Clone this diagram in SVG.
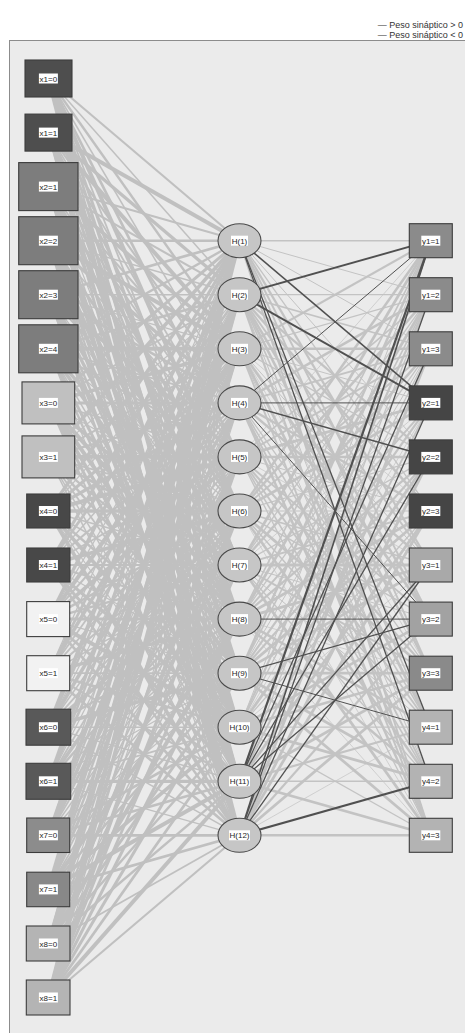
<svg xmlns="http://www.w3.org/2000/svg" width="465" height="1033" viewBox="0 0 465 1033">
<style>
text{font-family:"Liberation Sans",Arial,sans-serif;font-size:8px;fill:#1e1e1e;text-anchor:middle}
.leg{font-size:9px;text-anchor:end;fill:#333}
.bg{fill:#ebebeb;stroke:#8c8c8c;stroke-width:1}
.c path{fill:none}
.l{stroke:#c3c3c3}
.n{stroke:#505050}
.p0{stroke-width:.7}.p1{stroke-width:1}.p2{stroke-width:1.3}.p3{stroke-width:1.6}.p4{stroke-width:1.9}
.p5{stroke-width:2.2}.p6{stroke-width:2.5}.p7{stroke-width:2.8}.p8{stroke-width:3.1}.p9{stroke-width:3.4}
.L{stroke:#c0c0c0}
.L .p0{stroke-width:1.2}.L .p1{stroke-width:1.5}.L .p2{stroke-width:1.8}.L .p3{stroke-width:2.1}.L .p4{stroke-width:2.4}
.L .p5{stroke-width:2.7}.L .p6{stroke-width:3}.L .p7{stroke-width:3.3}.L .p8{stroke-width:3.6}.L .p9{stroke-width:4}
.b{stroke:#3c3c3c;stroke-width:1.1}
.lb{fill:#fff}
ellipse{fill:#c6c6c6;stroke:#4a4a4a;stroke-width:1.1}
</style>
<rect class="bg" x="9.5" y="40.5" width="470" height="1010"/>
<g id="legend">
<text class="leg" x="463" y="28">— Peso sináptico &gt; 0</text>
<text class="leg" x="463" y="37.5">— Peso sináptico &lt; 0</text>
</g>
<g id="connectors" class="c">
<g class="L">
<path class="p3" d="M48.4 78.5L239.5 240.7"/><path class="p1" d="M48.4 78.5L239.5 294.7"/><path class="p4" d="M48.4 78.5L239.5 348.8"/><path class="p1" d="M48.4 78.5L239.5 402.9"/><path class="p5" d="M48.4 78.5L239.5 456.9"/><path class="p9" d="M48.4 78.5L239.5 511"/><path class="p2" d="M48.4 78.5L239.5 565"/><path class="p6" d="M48.4 78.5L239.5 619.1"/><path class="p5" d="M48.4 78.5L239.5 673.2"/><path class="p3" d="M48.4 78.5L239.5 727.2"/><path class="p5" d="M48.4 78.5L239.5 781.3"/><path class="p8" d="M48.4 78.5L239.5 835.3"/>
<path class="p9" d="M48.4 132.6L239.5 240.7"/><path class="p7" d="M48.4 132.6L239.5 294.7"/><path class="p9" d="M48.4 132.6L239.5 348.8"/><path class="p3" d="M48.4 132.6L239.5 402.9"/><path class="p2" d="M48.4 132.6L239.5 456.9"/><path class="p3" d="M48.4 132.6L239.5 511"/><path class="p8" d="M48.4 132.6L239.5 565"/><path class="p4" d="M48.4 132.6L239.5 619.1"/><path class="p6" d="M48.4 132.6L239.5 673.2"/><path class="p2" d="M48.4 132.6L239.5 727.2"/><path class="p6" d="M48.4 132.6L239.5 781.3"/><path class="p4" d="M48.4 132.6L239.5 835.3"/>
<path class="p3" d="M48.4 186.6L239.5 240.7"/><path class="p3" d="M48.4 186.6L239.5 294.7"/><path class="p8" d="M48.4 186.6L239.5 348.8"/><path class="p3" d="M48.4 186.6L239.5 402.9"/><path class="p2" d="M48.4 186.6L239.5 456.9"/><path class="p7" d="M48.4 186.6L239.5 511"/><path class="p9" d="M48.4 186.6L239.5 565"/><path class="p5" d="M48.4 186.6L239.5 619.1"/><path class="p0" d="M48.4 186.6L239.5 673.2"/><path class="p2" d="M48.4 186.6L239.5 727.2"/><path class="p8" d="M48.4 186.6L239.5 781.3"/><path class="p8" d="M48.4 186.6L239.5 835.3"/>
<path class="p4" d="M48.4 240.7L239.5 240.7"/><path class="p1" d="M48.4 240.7L239.5 294.7"/><path class="p9" d="M48.4 240.7L239.5 348.8"/><path class="p7" d="M48.4 240.7L239.5 402.9"/><path class="p1" d="M48.4 240.7L239.5 456.9"/><path class="p6" d="M48.4 240.7L239.5 511"/><path class="p9" d="M48.4 240.7L239.5 565"/><path class="p3" d="M48.4 240.7L239.5 619.1"/><path class="p9" d="M48.4 240.7L239.5 673.2"/><path class="p9" d="M48.4 240.7L239.5 727.2"/><path class="p3" d="M48.4 240.7L239.5 781.3"/><path class="p7" d="M48.4 240.7L239.5 835.3"/>
<path class="p5" d="M48.4 294.7L239.5 240.7"/><path class="p1" d="M48.4 294.7L239.5 294.7"/><path class="p0" d="M48.4 294.7L239.5 348.8"/><path class="p5" d="M48.4 294.7L239.5 402.9"/><path class="p8" d="M48.4 294.7L239.5 456.9"/><path class="p2" d="M48.4 294.7L239.5 511"/><path class="p0" d="M48.4 294.7L239.5 565"/><path class="p9" d="M48.4 294.7L239.5 619.1"/><path class="p7" d="M48.4 294.7L239.5 673.2"/><path class="p4" d="M48.4 294.7L239.5 727.2"/><path class="p9" d="M48.4 294.7L239.5 781.3"/><path class="p4" d="M48.4 294.7L239.5 835.3"/>
<path class="p4" d="M48.4 348.8L239.5 240.7"/><path class="p5" d="M48.4 348.8L239.5 294.7"/><path class="p9" d="M48.4 348.8L239.5 348.8"/><path class="p2" d="M48.4 348.8L239.5 402.9"/><path class="p3" d="M48.4 348.8L239.5 456.9"/><path class="p0" d="M48.4 348.8L239.5 511"/><path class="p7" d="M48.4 348.8L239.5 565"/><path class="p8" d="M48.4 348.8L239.5 619.1"/><path class="p1" d="M48.4 348.8L239.5 673.2"/><path class="p6" d="M48.4 348.8L239.5 727.2"/><path class="p4" d="M48.4 348.8L239.5 781.3"/><path class="p0" d="M48.4 348.8L239.5 835.3"/>
<path class="p6" d="M48.4 402.9L239.5 240.7"/><path class="p2" d="M48.4 402.9L239.5 294.7"/><path class="p8" d="M48.4 402.9L239.5 348.8"/><path class="p6" d="M48.4 402.9L239.5 402.9"/><path class="p2" d="M48.4 402.9L239.5 456.9"/><path class="p0" d="M48.4 402.9L239.5 511"/><path class="p8" d="M48.4 402.9L239.5 565"/><path class="p9" d="M48.4 402.9L239.5 619.1"/><path class="p9" d="M48.4 402.9L239.5 673.2"/><path class="p8" d="M48.4 402.9L239.5 727.2"/><path class="p6" d="M48.4 402.9L239.5 781.3"/><path class="p2" d="M48.4 402.9L239.5 835.3"/>
<path class="p8" d="M48.4 456.9L239.5 240.7"/><path class="p0" d="M48.4 456.9L239.5 294.7"/><path class="p3" d="M48.4 456.9L239.5 348.8"/><path class="p4" d="M48.4 456.9L239.5 402.9"/><path class="p8" d="M48.4 456.9L239.5 456.9"/><path class="p2" d="M48.4 456.9L239.5 511"/><path class="p5" d="M48.4 456.9L239.5 565"/><path class="p3" d="M48.4 456.9L239.5 619.1"/><path class="p4" d="M48.4 456.9L239.5 673.2"/><path class="p2" d="M48.4 456.9L239.5 727.2"/><path class="p1" d="M48.4 456.9L239.5 781.3"/><path class="p1" d="M48.4 456.9L239.5 835.3"/>
<path class="p7" d="M48.4 511L239.5 240.7"/><path class="p0" d="M48.4 511L239.5 294.7"/><path class="p6" d="M48.4 511L239.5 348.8"/><path class="p7" d="M48.4 511L239.5 402.9"/><path class="p9" d="M48.4 511L239.5 456.9"/><path class="p8" d="M48.4 511L239.5 511"/><path class="p2" d="M48.4 511L239.5 565"/><path class="p1" d="M48.4 511L239.5 619.1"/><path class="p4" d="M48.4 511L239.5 673.2"/><path class="p8" d="M48.4 511L239.5 727.2"/><path class="p0" d="M48.4 511L239.5 781.3"/><path class="p8" d="M48.4 511L239.5 835.3"/>
<path class="p6" d="M48.4 565L239.5 240.7"/><path class="p5" d="M48.4 565L239.5 294.7"/><path class="p1" d="M48.4 565L239.5 348.8"/><path class="p3" d="M48.4 565L239.5 402.9"/><path class="p2" d="M48.4 565L239.5 456.9"/><path class="p8" d="M48.4 565L239.5 511"/><path class="p2" d="M48.4 565L239.5 565"/><path class="p3" d="M48.4 565L239.5 619.1"/><path class="p0" d="M48.4 565L239.5 673.2"/><path class="p6" d="M48.4 565L239.5 727.2"/><path class="p6" d="M48.4 565L239.5 781.3"/><path class="p4" d="M48.4 565L239.5 835.3"/>
<path class="p7" d="M48.4 619.1L239.5 240.7"/><path class="p0" d="M48.4 619.1L239.5 294.7"/><path class="p9" d="M48.4 619.1L239.5 348.8"/><path class="p3" d="M48.4 619.1L239.5 402.9"/><path class="p8" d="M48.4 619.1L239.5 456.9"/><path class="p4" d="M48.4 619.1L239.5 511"/><path class="p4" d="M48.4 619.1L239.5 565"/><path class="p6" d="M48.4 619.1L239.5 619.1"/><path class="p0" d="M48.4 619.1L239.5 673.2"/><path class="p9" d="M48.4 619.1L239.5 727.2"/><path class="p5" d="M48.4 619.1L239.5 781.3"/><path class="p5" d="M48.4 619.1L239.5 835.3"/>
<path class="p0" d="M48.4 673.2L239.5 240.7"/><path class="p5" d="M48.4 673.2L239.5 294.7"/><path class="p8" d="M48.4 673.2L239.5 348.8"/><path class="p2" d="M48.4 673.2L239.5 402.9"/><path class="p2" d="M48.4 673.2L239.5 456.9"/><path class="p3" d="M48.4 673.2L239.5 511"/><path class="p1" d="M48.4 673.2L239.5 565"/><path class="p7" d="M48.4 673.2L239.5 619.1"/><path class="p2" d="M48.4 673.2L239.5 673.2"/><path class="p5" d="M48.4 673.2L239.5 727.2"/><path class="p3" d="M48.4 673.2L239.5 781.3"/><path class="p5" d="M48.4 673.2L239.5 835.3"/>
<path class="p9" d="M48.4 727.2L239.5 240.7"/><path class="p4" d="M48.4 727.2L239.5 294.7"/><path class="p0" d="M48.4 727.2L239.5 348.8"/><path class="p8" d="M48.4 727.2L239.5 402.9"/><path class="p1" d="M48.4 727.2L239.5 456.9"/><path class="p2" d="M48.4 727.2L239.5 511"/><path class="p8" d="M48.4 727.2L239.5 565"/><path class="p4" d="M48.4 727.2L239.5 619.1"/><path class="p8" d="M48.4 727.2L239.5 673.2"/><path class="p1" d="M48.4 727.2L239.5 727.2"/><path class="p1" d="M48.4 727.2L239.5 781.3"/><path class="p1" d="M48.4 727.2L239.5 835.3"/>
<path class="p7" d="M48.4 781.3L239.5 240.7"/><path class="p4" d="M48.4 781.3L239.5 294.7"/><path class="p5" d="M48.4 781.3L239.5 348.8"/><path class="p0" d="M48.4 781.3L239.5 402.9"/><path class="p2" d="M48.4 781.3L239.5 456.9"/><path class="p8" d="M48.4 781.3L239.5 511"/><path class="p4" d="M48.4 781.3L239.5 565"/><path class="p1" d="M48.4 781.3L239.5 619.1"/><path class="p0" d="M48.4 781.3L239.5 673.2"/><path class="p2" d="M48.4 781.3L239.5 727.2"/><path class="p7" d="M48.4 781.3L239.5 781.3"/><path class="p0" d="M48.4 781.3L239.5 835.3"/>
<path class="p1" d="M48.4 835.3L239.5 240.7"/><path class="p9" d="M48.4 835.3L239.5 294.7"/><path class="p3" d="M48.4 835.3L239.5 348.8"/><path class="p8" d="M48.4 835.3L239.5 402.9"/><path class="p5" d="M48.4 835.3L239.5 456.9"/><path class="p2" d="M48.4 835.3L239.5 511"/><path class="p1" d="M48.4 835.3L239.5 565"/><path class="p1" d="M48.4 835.3L239.5 619.1"/><path class="p0" d="M48.4 835.3L239.5 673.2"/><path class="p5" d="M48.4 835.3L239.5 727.2"/><path class="p5" d="M48.4 835.3L239.5 781.3"/><path class="p5" d="M48.4 835.3L239.5 835.3"/>
<path class="p9" d="M48.4 889.4L239.5 240.7"/><path class="p6" d="M48.4 889.4L239.5 294.7"/><path class="p4" d="M48.4 889.4L239.5 348.8"/><path class="p4" d="M48.4 889.4L239.5 402.9"/><path class="p6" d="M48.4 889.4L239.5 456.9"/><path class="p2" d="M48.4 889.4L239.5 511"/><path class="p2" d="M48.4 889.4L239.5 565"/><path class="p9" d="M48.4 889.4L239.5 619.1"/><path class="p4" d="M48.4 889.4L239.5 673.2"/><path class="p8" d="M48.4 889.4L239.5 727.2"/><path class="p9" d="M48.4 889.4L239.5 781.3"/><path class="p5" d="M48.4 889.4L239.5 835.3"/>
<path class="p4" d="M48.4 943.5L239.5 240.7"/><path class="p9" d="M48.4 943.5L239.5 294.7"/><path class="p3" d="M48.4 943.5L239.5 348.8"/><path class="p0" d="M48.4 943.5L239.5 402.9"/><path class="p3" d="M48.4 943.5L239.5 456.9"/><path class="p8" d="M48.4 943.5L239.5 511"/><path class="p1" d="M48.4 943.5L239.5 565"/><path class="p9" d="M48.4 943.5L239.5 619.1"/><path class="p6" d="M48.4 943.5L239.5 673.2"/><path class="p4" d="M48.4 943.5L239.5 727.2"/><path class="p4" d="M48.4 943.5L239.5 781.3"/><path class="p2" d="M48.4 943.5L239.5 835.3"/>
<path class="p8" d="M48.4 997.5L239.5 240.7"/><path class="p8" d="M48.4 997.5L239.5 294.7"/><path class="p1" d="M48.4 997.5L239.5 348.8"/><path class="p0" d="M48.4 997.5L239.5 402.9"/><path class="p9" d="M48.4 997.5L239.5 456.9"/><path class="p7" d="M48.4 997.5L239.5 511"/><path class="p5" d="M48.4 997.5L239.5 565"/><path class="p6" d="M48.4 997.5L239.5 619.1"/><path class="p6" d="M48.4 997.5L239.5 673.2"/><path class="p5" d="M48.4 997.5L239.5 727.2"/><path class="p9" d="M48.4 997.5L239.5 781.3"/><path class="p3" d="M48.4 997.5L239.5 835.3"/>
</g>
<g class="l">
<path class="p3" d="M239.5 240.7L430.8 240.7"/><path class="p1" d="M239.5 240.7L430.8 294.7"/><path class="p1" d="M239.5 240.7L430.8 348.8"/><path class="p1" d="M239.5 240.7L430.8 456.9"/><path class="p2" d="M239.5 240.7L430.8 511"/><path class="p5" d="M239.5 240.7L430.8 565"/><path class="p4" d="M239.5 240.7L430.8 619.1"/><path class="p4" d="M239.5 240.7L430.8 673.2"/><path class="p4" d="M239.5 240.7L430.8 835.3"/>
<path class="p2" d="M239.5 294.7L430.8 294.7"/><path class="p3" d="M239.5 294.7L430.8 348.8"/><path class="p5" d="M239.5 294.7L430.8 456.9"/><path class="p6" d="M239.5 294.7L430.8 511"/><path class="p4" d="M239.5 294.7L430.8 565"/><path class="p6" d="M239.5 294.7L430.8 619.1"/><path class="p6" d="M239.5 294.7L430.8 673.2"/><path class="p3" d="M239.5 294.7L430.8 727.2"/><path class="p1" d="M239.5 294.7L430.8 781.3"/><path class="p5" d="M239.5 294.7L430.8 835.3"/>
<path class="p5" d="M239.5 348.8L430.8 240.7"/><path class="p2" d="M239.5 348.8L430.8 294.7"/><path class="p6" d="M239.5 348.8L430.8 348.8"/><path class="p1" d="M239.5 348.8L430.8 402.9"/><path class="p2" d="M239.5 348.8L430.8 456.9"/><path class="p0" d="M239.5 348.8L430.8 511"/><path class="p1" d="M239.5 348.8L430.8 565"/><path class="p7" d="M239.5 348.8L430.8 619.1"/><path class="p0" d="M239.5 348.8L430.8 673.2"/><path class="p7" d="M239.5 348.8L430.8 727.2"/><path class="p1" d="M239.5 348.8L430.8 781.3"/><path class="p4" d="M239.5 348.8L430.8 835.3"/>
<path class="p6" d="M239.5 402.9L430.8 294.7"/><path class="p4" d="M239.5 402.9L430.8 348.8"/><path class="p6" d="M239.5 402.9L430.8 511"/><path class="p6" d="M239.5 402.9L430.8 565"/><path class="p2" d="M239.5 402.9L430.8 673.2"/><path class="p3" d="M239.5 402.9L430.8 727.2"/><path class="p4" d="M239.5 402.9L430.8 781.3"/><path class="p6" d="M239.5 402.9L430.8 835.3"/>
<path class="p0" d="M239.5 456.9L430.8 240.7"/><path class="p3" d="M239.5 456.9L430.8 294.7"/><path class="p4" d="M239.5 456.9L430.8 348.8"/><path class="p7" d="M239.5 456.9L430.8 402.9"/><path class="p6" d="M239.5 456.9L430.8 456.9"/><path class="p1" d="M239.5 456.9L430.8 511"/><path class="p0" d="M239.5 456.9L430.8 565"/><path class="p4" d="M239.5 456.9L430.8 619.1"/><path class="p5" d="M239.5 456.9L430.8 673.2"/><path class="p4" d="M239.5 456.9L430.8 727.2"/><path class="p3" d="M239.5 456.9L430.8 781.3"/><path class="p2" d="M239.5 456.9L430.8 835.3"/>
<path class="p6" d="M239.5 511L430.8 240.7"/><path class="p6" d="M239.5 511L430.8 294.7"/><path class="p4" d="M239.5 511L430.8 348.8"/><path class="p7" d="M239.5 511L430.8 402.9"/><path class="p2" d="M239.5 511L430.8 456.9"/><path class="p1" d="M239.5 511L430.8 511"/><path class="p3" d="M239.5 511L430.8 565"/><path class="p3" d="M239.5 511L430.8 619.1"/><path class="p7" d="M239.5 511L430.8 673.2"/><path class="p3" d="M239.5 511L430.8 727.2"/><path class="p6" d="M239.5 511L430.8 781.3"/><path class="p0" d="M239.5 511L430.8 835.3"/>
<path class="p7" d="M239.5 565L430.8 240.7"/><path class="p2" d="M239.5 565L430.8 294.7"/><path class="p6" d="M239.5 565L430.8 348.8"/><path class="p0" d="M239.5 565L430.8 402.9"/><path class="p2" d="M239.5 565L430.8 456.9"/><path class="p4" d="M239.5 565L430.8 511"/><path class="p7" d="M239.5 565L430.8 565"/><path class="p1" d="M239.5 565L430.8 619.1"/><path class="p4" d="M239.5 565L430.8 673.2"/><path class="p1" d="M239.5 565L430.8 727.2"/><path class="p2" d="M239.5 565L430.8 781.3"/><path class="p7" d="M239.5 565L430.8 835.3"/>
<path class="p3" d="M239.5 619.1L430.8 240.7"/><path class="p7" d="M239.5 619.1L430.8 294.7"/><path class="p2" d="M239.5 619.1L430.8 348.8"/><path class="p4" d="M239.5 619.1L430.8 402.9"/><path class="p5" d="M239.5 619.1L430.8 456.9"/><path class="p7" d="M239.5 619.1L430.8 511"/><path class="p7" d="M239.5 619.1L430.8 565"/><path class="p0" d="M239.5 619.1L430.8 673.2"/><path class="p6" d="M239.5 619.1L430.8 727.2"/><path class="p6" d="M239.5 619.1L430.8 781.3"/><path class="p0" d="M239.5 619.1L430.8 835.3"/>
<path class="p6" d="M239.5 673.2L430.8 240.7"/><path class="p3" d="M239.5 673.2L430.8 294.7"/><path class="p1" d="M239.5 673.2L430.8 348.8"/><path class="p5" d="M239.5 673.2L430.8 402.9"/><path class="p5" d="M239.5 673.2L430.8 456.9"/><path class="p7" d="M239.5 673.2L430.8 511"/><path class="p7" d="M239.5 673.2L430.8 565"/><path class="p7" d="M239.5 673.2L430.8 673.2"/><path class="p7" d="M239.5 673.2L430.8 781.3"/><path class="p7" d="M239.5 673.2L430.8 835.3"/>
<path class="p1" d="M239.5 727.2L430.8 240.7"/><path class="p5" d="M239.5 727.2L430.8 294.7"/><path class="p2" d="M239.5 727.2L430.8 348.8"/><path class="p0" d="M239.5 727.2L430.8 402.9"/><path class="p7" d="M239.5 727.2L430.8 456.9"/><path class="p2" d="M239.5 727.2L430.8 511"/><path class="p0" d="M239.5 727.2L430.8 565"/><path class="p7" d="M239.5 727.2L430.8 619.1"/><path class="p6" d="M239.5 727.2L430.8 673.2"/><path class="p2" d="M239.5 727.2L430.8 727.2"/><path class="p7" d="M239.5 727.2L430.8 781.3"/><path class="p2" d="M239.5 727.2L430.8 835.3"/>
<path class="p2" d="M239.5 781.3L430.8 294.7"/><path class="p4" d="M239.5 781.3L430.8 402.9"/><path class="p7" d="M239.5 781.3L430.8 511"/><path class="p7" d="M239.5 781.3L430.8 673.2"/><path class="p5" d="M239.5 781.3L430.8 727.2"/><path class="p3" d="M239.5 781.3L430.8 781.3"/><path class="p6" d="M239.5 781.3L430.8 835.3"/>
<path class="p7" d="M239.5 835.3L430.8 348.8"/><path class="p7" d="M239.5 835.3L430.8 456.9"/><path class="p7" d="M239.5 835.3L430.8 511"/><path class="p5" d="M239.5 835.3L430.8 619.1"/><path class="p7" d="M239.5 835.3L430.8 673.2"/><path class="p0" d="M239.5 835.3L430.8 727.2"/><path class="p6" d="M239.5 835.3L430.8 835.3"/>
</g>
<g class="n">
<path class="p3" d="M239.5 240.7L430.8 402.9"/><path class="p2" d="M239.5 240.7L430.8 727.2"/><path class="p2" d="M239.5 240.7L430.8 781.3"/>
<path class="p4" d="M239.5 294.7L430.8 240.7"/><path class="p4" d="M239.5 294.7L430.8 402.9"/>
<path class="p1" d="M239.5 402.9L430.8 240.7"/><path class="p1" d="M239.5 402.9L430.8 402.9"/><path class="p3" d="M239.5 402.9L430.8 456.9"/><path class="p1" d="M239.5 402.9L430.8 619.1"/>
<path class="p1" d="M239.5 619.1L430.8 619.1"/>
<path class="p2" d="M239.5 673.2L430.8 619.1"/><path class="p1" d="M239.5 673.2L430.8 727.2"/>
<path class="p5" d="M239.5 781.3L430.8 240.7"/><path class="p2" d="M239.5 781.3L430.8 348.8"/><path class="p2" d="M239.5 781.3L430.8 456.9"/><path class="p2" d="M239.5 781.3L430.8 565"/><path class="p2" d="M239.5 781.3L430.8 619.1"/>
<path class="p3" d="M239.5 835.3L430.8 240.7"/><path class="p2" d="M239.5 835.3L430.8 294.7"/><path class="p2" d="M239.5 835.3L430.8 402.9"/><path class="p2" d="M239.5 835.3L430.8 565"/><path class="p5" d="M239.5 835.3L430.8 781.3"/>
</g>
</g>
<g id="x1_0"><rect class="b" x="25" y="60" width="47" height="37" fill="#4e4e4e"/><rect class="lb" x="38.9" y="73.5" width="19" height="10"/><text x="48.4" y="81.5">x1=0</text></g>
<g id="x1_1"><rect class="b" x="25" y="114.1" width="47" height="37" fill="#4e4e4e"/><rect class="lb" x="38.9" y="127.6" width="19" height="10"/><text x="48.4" y="135.6">x1=1</text></g>
<g id="x2_1"><rect class="b" x="18.7" y="162.6" width="59.3" height="48" fill="#7d7d7d"/><rect class="lb" x="38.9" y="181.6" width="19" height="10"/><text x="48.4" y="189.6">x2=1</text></g>
<g id="x2_2"><rect class="b" x="18.7" y="216.7" width="59.3" height="48" fill="#7d7d7d"/><rect class="lb" x="38.9" y="235.7" width="19" height="10"/><text x="48.4" y="243.7">x2=2</text></g>
<g id="x2_3"><rect class="b" x="18.7" y="270.7" width="59.3" height="48" fill="#7d7d7d"/><rect class="lb" x="38.9" y="289.7" width="19" height="10"/><text x="48.4" y="297.7">x2=3</text></g>
<g id="x2_4"><rect class="b" x="18.7" y="324.8" width="59.3" height="48" fill="#7d7d7d"/><rect class="lb" x="38.9" y="343.8" width="19" height="10"/><text x="48.4" y="351.8">x2=4</text></g>
<g id="x3_0"><rect class="b" x="22" y="381.9" width="52.7" height="42" fill="#c0c0c0"/><rect class="lb" x="38.9" y="397.9" width="19" height="10"/><text x="48.4" y="405.9">x3=0</text></g>
<g id="x3_1"><rect class="b" x="22" y="435.9" width="52.7" height="42" fill="#c0c0c0"/><rect class="lb" x="38.9" y="451.9" width="19" height="10"/><text x="48.4" y="459.9">x3=1</text></g>
<g id="x4_0"><rect class="b" x="26.7" y="494" width="43.3" height="34" fill="#484848"/><rect class="lb" x="38.9" y="506" width="19" height="10"/><text x="48.4" y="514">x4=0</text></g>
<g id="x4_1"><rect class="b" x="26.7" y="548" width="43.3" height="34" fill="#484848"/><rect class="lb" x="38.9" y="560" width="19" height="10"/><text x="48.4" y="568">x4=1</text></g>
<g id="x5_0"><rect class="b" x="26.7" y="601.6" width="43" height="35" fill="#f2f2f2"/><rect class="lb" x="38.9" y="614.1" width="19" height="10"/><text x="48.4" y="622.1">x5=0</text></g>
<g id="x5_1"><rect class="b" x="26.7" y="655.7" width="43" height="35" fill="#f2f2f2"/><rect class="lb" x="38.9" y="668.2" width="19" height="10"/><text x="48.4" y="676.2">x5=1</text></g>
<g id="x6_0"><rect class="b" x="26" y="709.2" width="44.7" height="36" fill="#595959"/><rect class="lb" x="38.9" y="722.2" width="19" height="10"/><text x="48.4" y="730.2">x6=0</text></g>
<g id="x6_1"><rect class="b" x="26" y="763.3" width="44.7" height="36" fill="#595959"/><rect class="lb" x="38.9" y="776.3" width="19" height="10"/><text x="48.4" y="784.3">x6=1</text></g>
<g id="x7_0"><rect class="b" x="26.7" y="818" width="43" height="34.5" fill="#8c8c8c"/><rect class="lb" x="38.9" y="830.3" width="19" height="10"/><text x="48.4" y="838.3">x7=0</text></g>
<g id="x7_1"><rect class="b" x="26.7" y="872.2" width="43" height="34.5" fill="#888888"/><rect class="lb" x="38.9" y="884.4" width="19" height="10"/><text x="48.4" y="892.4">x7=1</text></g>
<g id="x8_0"><rect class="b" x="26.3" y="926" width="43.7" height="35" fill="#b4b4b4"/><rect class="lb" x="38.9" y="938.5" width="19" height="10"/><text x="48.4" y="946.5">x8=0</text></g>
<g id="x8_1"><rect class="b" x="26.3" y="980" width="43.7" height="35" fill="#b4b4b4"/><rect class="lb" x="38.9" y="992.5" width="19" height="10"/><text x="48.4" y="1000.5">x8=1</text></g>
<g id="h1"><ellipse cx="239.5" cy="240.7" rx="21.5" ry="17"/><rect class="lb" x="231" y="235.7" width="17" height="10"/><text x="239.5" y="243.6">H(1)</text></g>
<g id="h2"><ellipse cx="239.5" cy="294.7" rx="21.5" ry="17"/><rect class="lb" x="231" y="289.7" width="17" height="10"/><text x="239.5" y="297.6">H(2)</text></g>
<g id="h3"><ellipse cx="239.5" cy="348.8" rx="21.5" ry="17"/><rect class="lb" x="231" y="343.8" width="17" height="10"/><text x="239.5" y="351.7">H(3)</text></g>
<g id="h4"><ellipse cx="239.5" cy="402.9" rx="21.5" ry="17"/><rect class="lb" x="231" y="397.9" width="17" height="10"/><text x="239.5" y="405.8">H(4)</text></g>
<g id="h5"><ellipse cx="239.5" cy="456.9" rx="21.5" ry="17"/><rect class="lb" x="231" y="451.9" width="17" height="10"/><text x="239.5" y="459.8">H(5)</text></g>
<g id="h6"><ellipse cx="239.5" cy="511" rx="21.5" ry="17"/><rect class="lb" x="231" y="506" width="17" height="10"/><text x="239.5" y="513.9">H(6)</text></g>
<g id="h7"><ellipse cx="239.5" cy="565" rx="21.5" ry="17"/><rect class="lb" x="231" y="560" width="17" height="10"/><text x="239.5" y="567.9">H(7)</text></g>
<g id="h8"><ellipse cx="239.5" cy="619.1" rx="21.5" ry="17"/><rect class="lb" x="231" y="614.1" width="17" height="10"/><text x="239.5" y="622">H(8)</text></g>
<g id="h9"><ellipse cx="239.5" cy="673.2" rx="21.5" ry="17"/><rect class="lb" x="231" y="668.2" width="17" height="10"/><text x="239.5" y="676.1">H(9)</text></g>
<g id="h10"><ellipse cx="239.5" cy="727.2" rx="21.5" ry="17"/><rect class="lb" x="229" y="722.2" width="21" height="10"/><text x="239.5" y="730.1">H(10)</text></g>
<g id="h11"><ellipse cx="239.5" cy="781.3" rx="21.5" ry="17"/><rect class="lb" x="229" y="776.3" width="21" height="10"/><text x="239.5" y="784.2">H(11)</text></g>
<g id="h12"><ellipse cx="239.5" cy="835.3" rx="21.5" ry="17"/><rect class="lb" x="229" y="830.3" width="21" height="10"/><text x="239.5" y="838.2">H(12)</text></g>
<g id="y1_1"><rect class="b" x="409.3" y="223.7" width="43" height="34" fill="#8b8b8b"/><rect class="lb" x="421.3" y="235.7" width="19" height="10"/><text x="430.8" y="243.6">y1=1</text></g>
<g id="y1_2"><rect class="b" x="409.3" y="277.7" width="43" height="34" fill="#8b8b8b"/><rect class="lb" x="421.3" y="289.7" width="19" height="10"/><text x="430.8" y="297.6">y1=2</text></g>
<g id="y1_3"><rect class="b" x="409.3" y="331.8" width="43" height="34" fill="#8b8b8b"/><rect class="lb" x="421.3" y="343.8" width="19" height="10"/><text x="430.8" y="351.7">y1=3</text></g>
<g id="y2_1"><rect class="b" x="409.3" y="385.9" width="43" height="34" fill="#454545"/><rect class="lb" x="421.3" y="397.9" width="19" height="10"/><text x="430.8" y="405.8">y2=1</text></g>
<g id="y2_2"><rect class="b" x="409.3" y="439.9" width="43" height="34" fill="#454545"/><rect class="lb" x="421.3" y="451.9" width="19" height="10"/><text x="430.8" y="459.8">y2=2</text></g>
<g id="y2_3"><rect class="b" x="409.3" y="494" width="43" height="34" fill="#454545"/><rect class="lb" x="421.3" y="506" width="19" height="10"/><text x="430.8" y="513.9">y2=3</text></g>
<g id="y3_1"><rect class="b" x="409.3" y="548" width="43" height="34" fill="#a9a9a9"/><rect class="lb" x="421.3" y="560" width="19" height="10"/><text x="430.8" y="567.9">y3=1</text></g>
<g id="y3_2"><rect class="b" x="409.3" y="602.1" width="43" height="34" fill="#a2a2a2"/><rect class="lb" x="421.3" y="614.1" width="19" height="10"/><text x="430.8" y="622">y3=2</text></g>
<g id="y3_3"><rect class="b" x="409.3" y="656.2" width="43" height="34" fill="#8a8a8a"/><rect class="lb" x="421.3" y="668.2" width="19" height="10"/><text x="430.8" y="676.1">y3=3</text></g>
<g id="y4_1"><rect class="b" x="409.3" y="710.2" width="43" height="34" fill="#b3b3b3"/><rect class="lb" x="421.3" y="722.2" width="19" height="10"/><text x="430.8" y="730.1">y4=1</text></g>
<g id="y4_2"><rect class="b" x="409.3" y="764.3" width="43" height="34" fill="#b3b3b3"/><rect class="lb" x="421.3" y="776.3" width="19" height="10"/><text x="430.8" y="784.2">y4=2</text></g>
<g id="y4_3"><rect class="b" x="409.3" y="818.3" width="43" height="34" fill="#b3b3b3"/><rect class="lb" x="421.3" y="830.3" width="19" height="10"/><text x="430.8" y="838.2">y4=3</text></g>
</svg>
